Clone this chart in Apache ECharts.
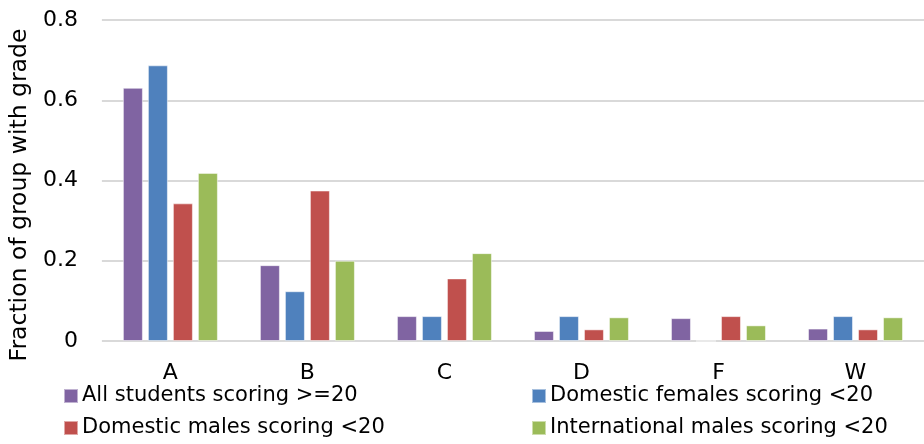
<!DOCTYPE html>
<html>
<head>
<meta charset="utf-8">
<script src="https://cdn.jsdelivr.net/npm/echarts@6/dist/echarts.min.js"></script>
<style>
  html, body { margin: 0; padding: 0; background: #fff; }
  #chart { width: 924px; height: 444px; }
</style>
</head>
<body>
<div id="chart"></div>
<script>
const grades = ['A', 'B', 'C', 'D', 'F', 'W'];
const allStudents = [0.631, 0.189, 0.062, 0.025, 0.057, 0.031];
const domesticFemales = [0.687, 0.124, 0.062, 0.062, 0, 0.062];
const domesticMales = [0.343, 0.375, 0.156, 0.029, 0.062, 0.029];
const internationalMales = [0.419, 0.2, 0.219, 0.059, 0.039, 0.059];
const seriesNames = [
  'All students scoring >=20',
  'Domestic females scoring <20',
  'Domestic males scoring <20',
  'International males scoring <20'
];
const colors = ['#8064A2', '#4F81BD', '#C0504D', '#9BBB59'];

const font = 'DejaVu Sans';
const chart = echarts.init(document.getElementById('chart'));

const legendBase = {
  orient: 'vertical',
  top: 384,
  padding: 0,
  itemWidth: 14,
  itemHeight: 14,
  itemGap: 8,
  icon: 'rect',
  selectedMode: false,
  textStyle: { fontFamily: font, fontSize: 21, lineHeight: 24, color: '#000', padding: [0, 0, 0, -1] }
};

chart.setOption({
  animation: false,
  color: colors,
  grid: { left: 101, right: -11, top: 20, bottom: 103 },
  legend: [
    { ...legendBase, left: 63, data: [seriesNames[0], seriesNames[2]] },
    { ...legendBase, left: 531, data: [seriesNames[1], seriesNames[3]] }
  ],
  xAxis: {
    type: 'category',
    data: grades,
    axisLine: { show: false },
    axisTick: { show: false },
    axisLabel: { fontFamily: font, fontSize: 22, color: '#000', margin: 21 }
  },
  yAxis: {
    type: 'value',
    min: 0,
    max: 0.8,
    interval: 0.2,
    name: 'Fraction of group with grade',
    nameLocation: 'middle',
    nameGap: 66,
    nameTextStyle: { fontFamily: font, fontSize: 23.5, color: '#000', padding: [0, 29, 0, 0] },
    axisLine: { show: false },
    axisTick: { show: false },
    axisLabel: { fontFamily: font, fontSize: 22, color: '#000', margin: 24 },
    splitLine: { lineStyle: { color: '#d9d9d9', width: 2 } }
  },
  series: [allStudents, domesticFemales, domesticMales, internationalMales].map((data, i) => ({
    name: seriesNames[i],
    type: 'bar',
    data,
    barWidth: 20,
    barGap: '25%',
    itemStyle: { borderColor: 'rgba(255,255,255,0.5)', borderWidth: 1 }
  }))
});
</script>
</body>
</html>
